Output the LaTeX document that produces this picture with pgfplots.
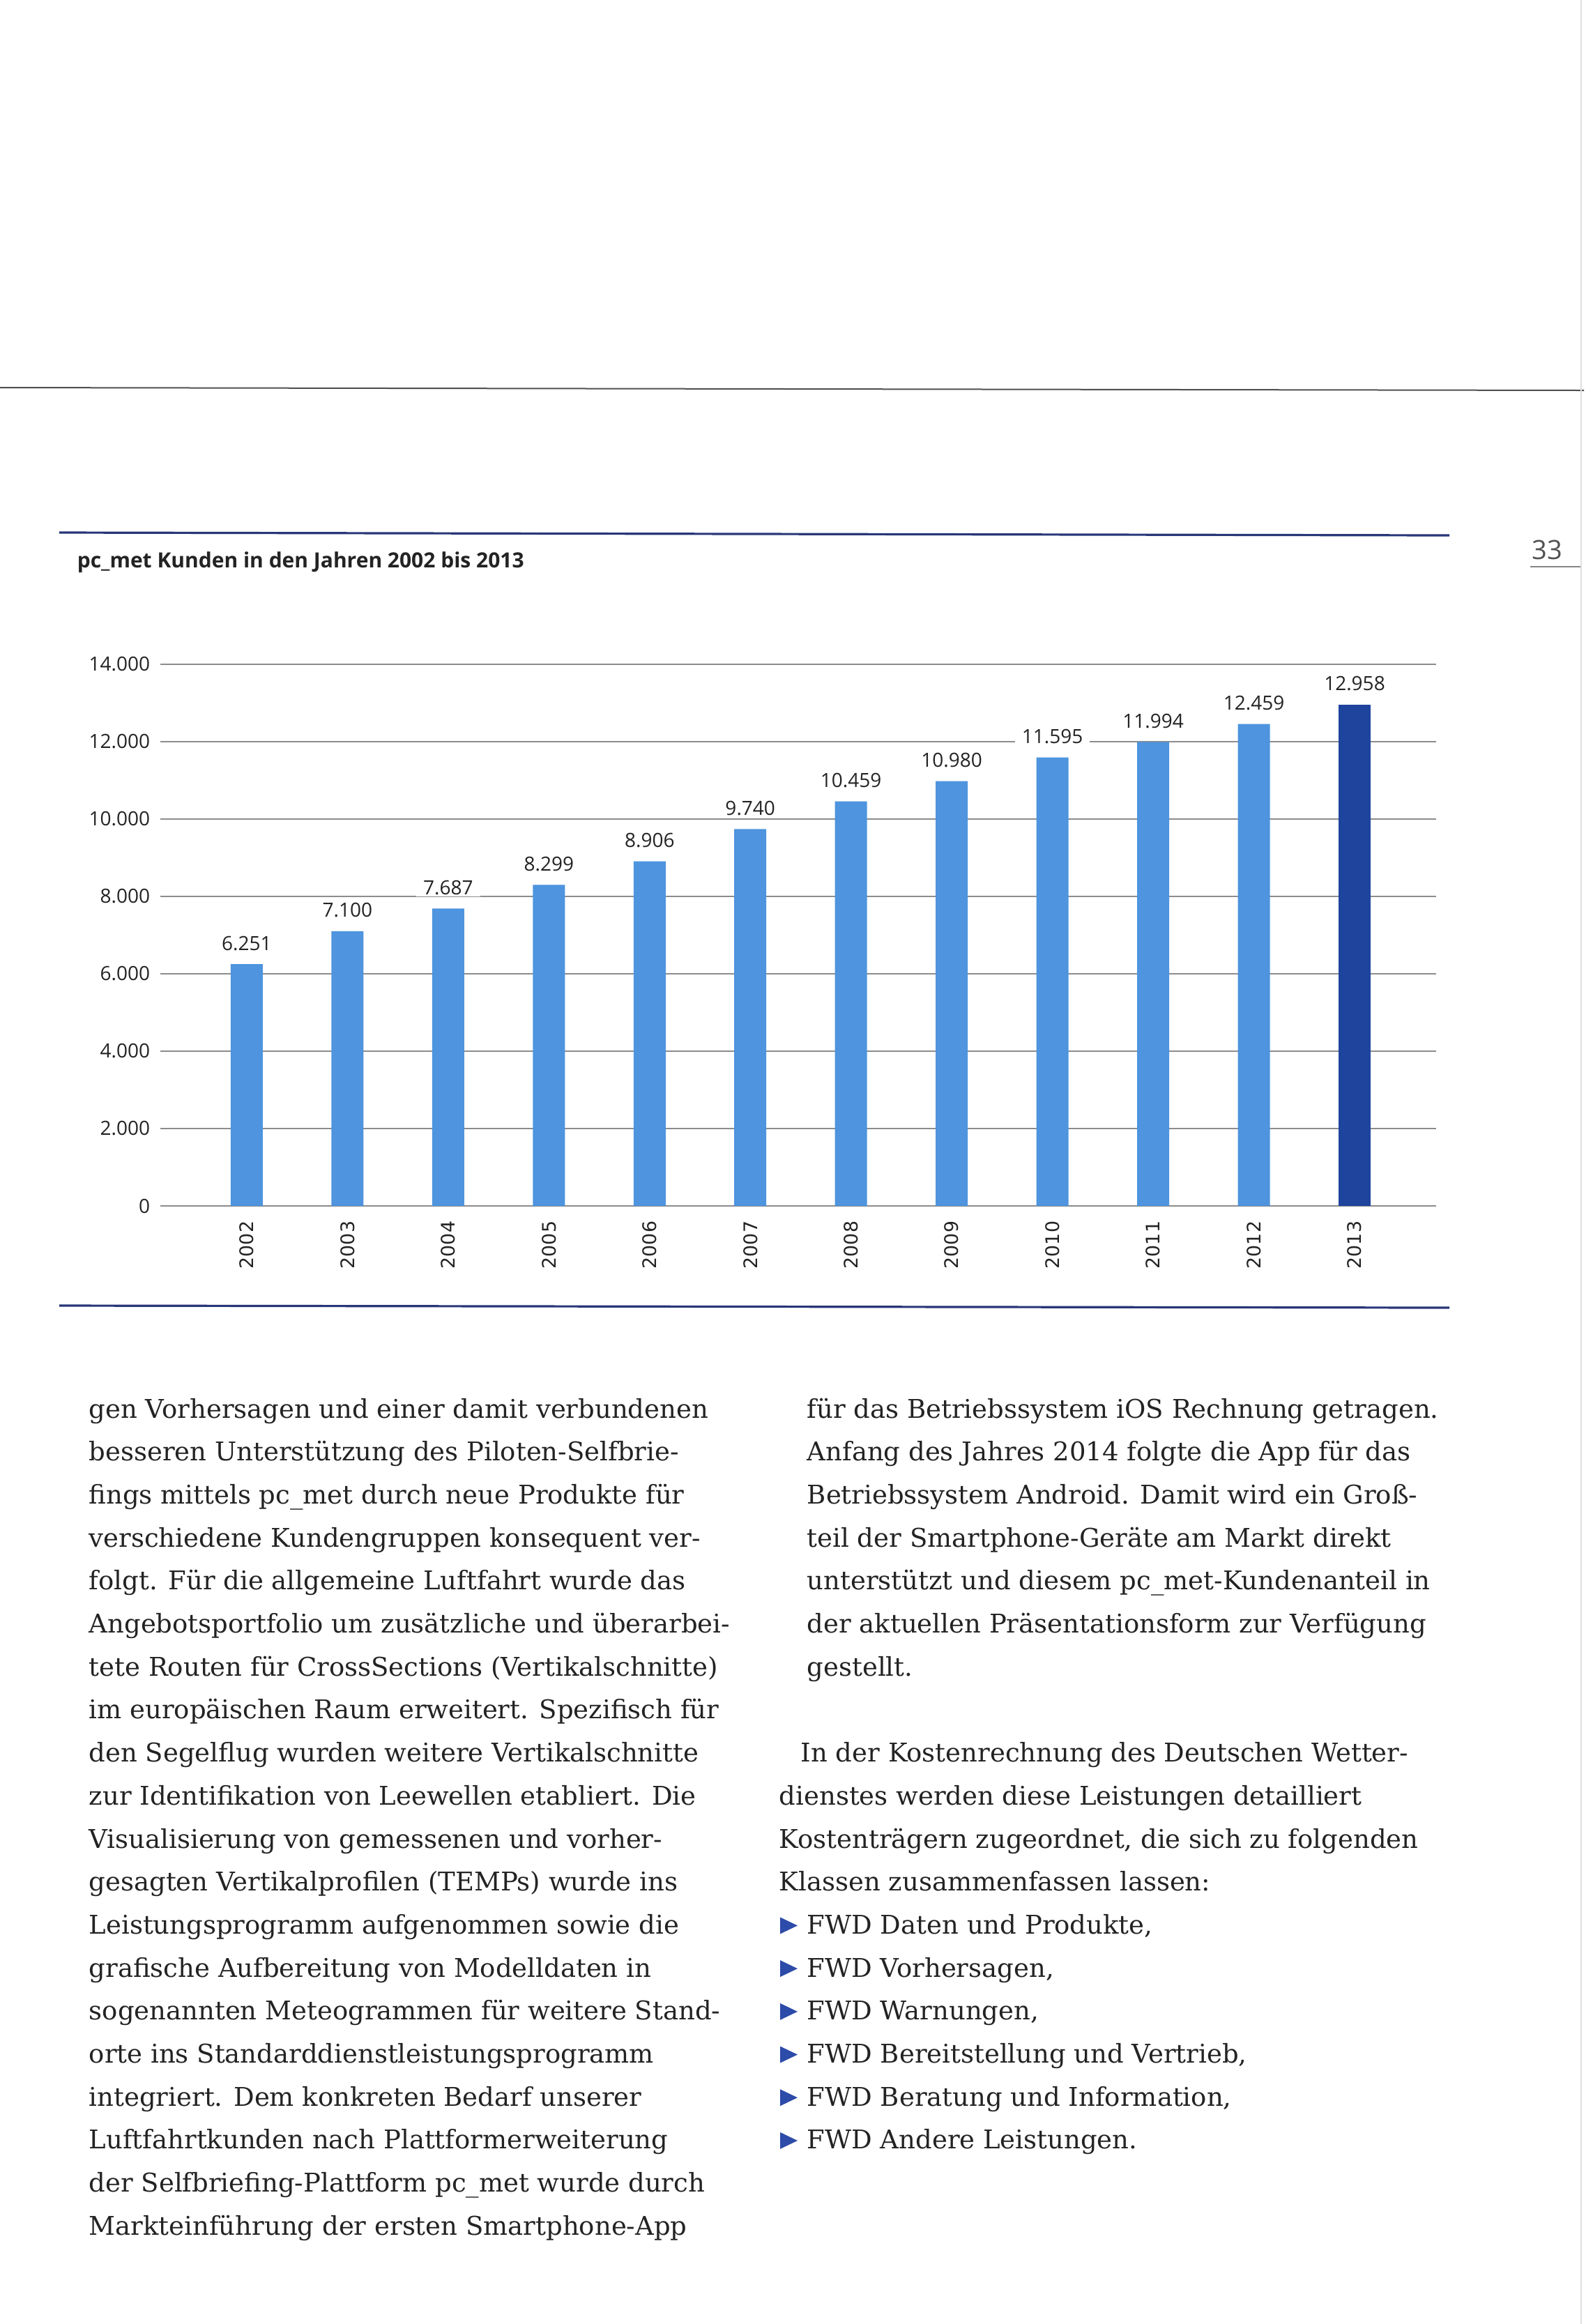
\documentclass[border=0pt]{standalone}
\usepackage{fontspec}
\usepackage{pgfplots}
\pgfplotsset{compat=1.18}
\setmainfont{DejaVu Serif}
\newfontfamily\osans{Open Sans}
\newfontfamily\djsans{DejaVu Sans}
\definecolor{barlight}{RGB}{78,148,222}
\definecolor{bardark}{RGB}{30,68,158}
\definecolor{gridgray}{RGB}{140,140,140}
\definecolor{navy}{RGB}{40,55,120}
\definecolor{inkgray}{RGB}{35,35,35}
\definecolor{pagegray}{RGB}{80,80,80}
\definecolor{bulletblue}{RGB}{45,75,168}

\begin{document}
\begin{tikzpicture}
\path[use as bounding box] (0,0) rectangle (571pt,-833.5pt);
% page furniture, in scan pixels (1px = 0.25pt)
\begin{scope}[x=0.25pt,y=-0.25pt]
  \draw[line width=0.5pt, pagegray] (0,556) -- (2272,560);
  \draw[line width=0.3pt, black!12] (2268,0) -- (2268,3334);
  \draw[line width=0.8pt, navy] (85,764) -- (2079,768);
  \draw[line width=0.8pt, navy] (85,1873) -- (2079,1876);
  \node[anchor=base west, inner sep=0pt, text=inkgray,
    font=\osans\bfseries\fontsize{7.5}{9}\selectfont] at (110,814)
    {pc\_met Kunden in den Jahren 2002 bis 2013};
  \node[anchor=base west, inner sep=0pt, text=pagegray,
    font=\osans\fontsize{9.5}{11}\selectfont] at (2197,802) {33};
  \draw[line width=0.4pt, pagegray!70] (2195,813) -- (2267,813);

  \begin{scope}[every node/.style={anchor=base west, inner sep=0pt, text=inkgray,
      font=\fontsize{9.25}{11}\selectfont}]
  \foreach \t [count=\k from 0] in {
    {gen Vorhersagen und einer damit verbundenen},
    {besseren Unterstützung des Piloten-Selfbrie-},
    {fings mittels pc\_met durch neue Produkte für},
    {verschiedene Kundengruppen konsequent ver-},
    {folgt. Für die allgemeine Luftfahrt wurde das},
    {Angebotsportfolio um zusätzliche und überarbei-},
    {tete Routen für CrossSections (Vertikalschnitte)},
    {im europäischen Raum erweitert. Spezifisch für},
    {den Segelflug wurden weitere Vertikalschnitte},
    {zur Identifikation von Leewellen etabliert. Die},
    {Visualisierung von gemessenen und vorher-},
    {gesagten Vertikalprofilen (TEMPs) wurde ins},
    {Leistungsprogramm aufgenommen sowie die},
    {grafische Aufbereitung von Modelldaten in},
    {sogenannten Meteogrammen für weitere Stand-},
    {orte ins Standarddienstleistungsprogramm},
    {integriert. Dem konkreten Bedarf unserer},
    {Luftfahrtkunden nach Plattformerweiterung},
    {der Selfbriefing-Plattform pc\_met wurde durch},
    {Markteinführung der ersten Smartphone-App}}
    \node at (127,{2034+61.7*\k}) {\t};
  \foreach \t [count=\k from 0] in {
    {für das Betriebssystem iOS Rechnung getragen.},
    {Anfang des Jahres 2014 folgte die App für das},
    {Betriebssystem Android. Damit wird ein Groß-},
    {teil der Smartphone-Geräte am Markt direkt},
    {unterstützt und diesem pc\_met-Kundenanteil in},
    {der aktuellen Präsentationsform zur Verfügung},
    {gestellt.}}
    \node at (1157,{2034+61.7*\k}) {\t};
  \node at (1148,{2034+61.7*8}) {In der Kostenrechnung des Deutschen Wetter-};
  \foreach \t [count=\k from 9] in {
    {dienstes werden diese Leistungen detailliert},
    {Kostenträgern zugeordnet, die sich zu folgenden},
    {Klassen zusammenfassen lassen:}}
    \node at (1117,{2034+61.7*\k}) {\t};
  \foreach \t [count=\k from 12] in {
    {FWD Daten und Produkte,},
    {FWD Vorhersagen,},
    {FWD Warnungen,},
    {FWD Bereitstellung und Vertrieb,},
    {FWD Beratung und Information,},
    {FWD Andere Leistungen.}}
    {\node at (1157,{2034+61.7*\k}) {\t};
     \fill[bulletblue] (1119,{2034+61.7*\k-24}) -- (1144,{2034+61.7*\k-12})
       -- (1119,{2034+61.7*\k}) -- cycle;}
  \end{scope}
\end{scope}

\begin{axis}[
  at={(57.5pt,-432.5pt)}, anchor=south west,
  scale only axis, width=457.5pt, height=194.25pt,
  ybar, bar width=11.5pt,
  xmin=-0.858, xmax=11.81,
  ymin=0, ymax=14000,
  xtick={0,...,11},
  xticklabels={2002,2003,2004,2005,2006,2007,2008,2009,2010,2011,2012,2013},
  ytick={0,2000,...,14000},
  scaled y ticks=false,
  /pgf/number format/.cd, fixed, precision=0, 1000 sep={.}, assume math mode=true,
  /pgfplots/.cd,
  axis line style={draw=none},
  tick style={draw=none},
  ymajorgrids,
  grid style={gridgray, line width=0.5pt},
  yticklabel style={anchor=east, inner sep=0pt, text=inkgray,
    font=\osans\fontsize{7}{8}\selectfont},
  yticklabel shift=3.5pt,
  xticklabel style={rotate=90, anchor=east, inner sep=0pt, text=inkgray,
    font=\djsans\fontsize{6.7}{8}\selectfont},
  xticklabel shift=1pt,
  nodes near coords,
  every node near coord/.append style={anchor=base, yshift=5pt,
    inner xsep=2.5pt, inner ysep=0.5pt, fill=white, text=inkgray,
    font=\osans\fontsize{7}{8}\selectfont},
]
\addplot[bar shift=0pt, fill=barlight, draw=none] coordinates {
  (0,6251) (1,7100) (2,7687) (3,8299) (4,8906) (5,9740)
  (6,10459) (7,10980) (8,11595) (9,11994) (10,12459)
};
\addplot[bar shift=0pt, fill=bardark, draw=none] coordinates {
  (11,12958)
};
\end{axis}
\end{tikzpicture}
\end{document}
